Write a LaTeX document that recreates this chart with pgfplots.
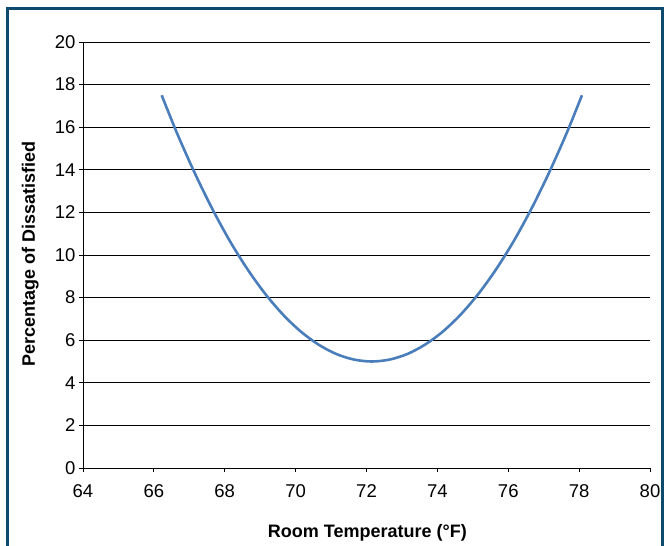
\documentclass[border=0pt]{standalone}
\usepackage{pgfplots}
\pgfplotsset{compat=1.18}
\usepackage{fontspec}
\setmainfont{Liberation Sans}
\definecolor{framecol}{RGB}{14,74,110}
\definecolor{curvecol}{RGB}{74,126,187}
\begin{document}
\begin{tikzpicture}
\path[use as bounding box] (-83bp,-78bp) rectangle (584bp,468bp);
\draw[framecol, line width=3bp] (-75bp,-90bp) -- (-75bp,459bp) -- (579bp,459bp) -- (579bp,-90bp);
\begin{axis}[
  at={(0,0)}, anchor=origin,
  scale only axis, width=567bp, height=426bp,
  xmin=64, xmax=80, ymin=0, ymax=20,
  xtick={64,66,...,80}, ytick={0,2,...,20},
  axis x line*=bottom, axis y line*=left,
  axis line style={-, black, line width=0.9bp},
  ymajorgrids, grid style={black, line width=0.8bp},
  tick align=outside, major tick length=4bp,
  tick style={black, line width=0.8bp},
  font=\fontsize{18bp}{21bp}\selectfont,
  /pgf/number format/assume math mode=true,
  ticklabel style={font=\fontsize{18.5bp}{21bp}\selectfont},
  xticklabel style={yshift=-9bp},
  xlabel={\textbf{Room Temperature (°F)}},
  ylabel={\textbf{Percentage of Dissatisfied}},
  xlabel style={at={(axis description cs:0.5016,-0.162)}, anchor=base},
  ylabel style={at={(axis description cs:-0.0847,0.502)}, anchor=base},
]
\addplot[curvecol, line width=2.6bp, smooth] coordinates {
  (66.22,17.50) (66.65,15.73) (67.15,13.86) (67.65,12.16) (68.15,10.64)
  (68.65,9.31) (69.15,8.16) (69.65,7.19) (70.15,6.40) (70.65,5.79)
  (71.15,5.35) (71.65,5.09) (72.15,5.00) (72.65,5.09) (73.15,5.35)
  (73.65,5.79) (74.15,6.40) (74.65,7.19) (75.15,8.16) (75.65,9.31)
  (76.15,10.64) (76.65,12.16) (77.15,13.86) (77.65,15.73) (78.08,17.50)
};
\end{axis}
\end{tikzpicture}
\end{document}
